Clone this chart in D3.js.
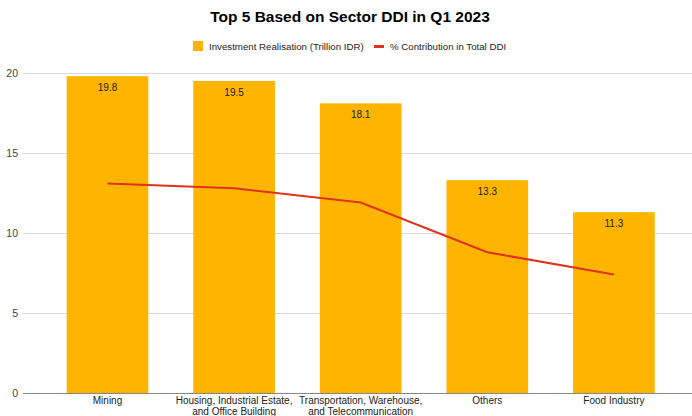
<!DOCTYPE html>
<html>
<head>
<meta charset="utf-8">
<script src="https://cdn.jsdelivr.net/npm/d3@7/dist/d3.min.js"></script>
<style>
  html, body { margin: 0; padding: 0; background: #fff; }
  svg { display: block; font-family: Arial, "Liberation Sans", sans-serif; }
</style>
</head>
<body>
<svg id="chart" width="692" height="416"></svg>
<script>
// Sector data
const categories = [
  ["Mining"],
  ["Housing, Industrial Estate,", "and Office Building"],
  ["Transportation, Warehouse,", "and Telecommunication"],
  ["Others"],
  ["Food Industry"]
];
const investment = [19.8, 19.5, 18.1, 13.3, 11.3];
const contribution = [13.1, 12.8, 11.9, 8.8, 7.4];
const yTicks = [0, 5, 10, 15, 20];
const seriesNames = ["Investment Realisation (Trillion IDR)", "% Contribution in Total DDI"];

const barColor = "#ffb400";
const lineColor = "#e0321c";

const svg = d3.select("#chart");
const W = 692, H = 416;
const gridLeft = 23, gridRight = 692;

const x = d3.scaleBand()
  .domain(d3.range(categories.length))
  .range([44.2, 677.2])
  .paddingInner(0.355)
  .paddingOuter(0.1775);

const y = d3.scaleLinear().domain([0, 20]).range([393, 73]);

// Title
svg.append("text")
  .attr("x", 350).attr("y", 22)
  .attr("text-anchor", "middle")
  .attr("font-size", 15.5).attr("font-weight", "bold").attr("fill", "#000")
  .text("Top 5 Based on Sector DDI in Q1 2023");

// Legend
const legend = svg.append("g").attr("font-size", 9.7).attr("fill", "#222");
legend.append("rect").attr("x", 193).attr("y", 41).attr("width", 10).attr("height", 10).attr("fill", barColor);
legend.append("text").attr("x", 209).attr("y", 50).attr("fill", "#222").text(seriesNames[0]);
legend.append("rect").attr("x", 374).attr("y", 45).attr("width", 10).attr("height", 3).attr("fill", lineColor);
legend.append("text").attr("x", 390).attr("y", 50).attr("fill", "#222").text(seriesNames[1]);

// Gridlines and y labels
const yAxis = svg.append("g");
yAxis.selectAll("line").data(yTicks.filter(d => d !== 0)).enter().append("line")
  .attr("x1", gridLeft).attr("x2", gridRight)
  .attr("y1", d => y(d) + 0.5).attr("y2", d => y(d) + 0.5)
  .attr("stroke", "#d9d9d9").attr("stroke-width", 1);
yAxis.selectAll("text").data(yTicks).enter().append("text")
  .attr("x", 18).attr("y", d => y(d) + 4)
  .attr("text-anchor", "end")
  .attr("font-size", 10.5).attr("fill", "#444")
  .text(d => d);

// Bars
svg.append("g").selectAll("rect").data(investment).enter().append("rect")
  .attr("x", (d, i) => x(i))
  .attr("y", d => y(d))
  .attr("width", x.bandwidth())
  .attr("height", d => y(0) - y(d))
  .attr("fill", barColor);

// Bar value labels
svg.append("g").selectAll("text").data(investment).enter().append("text")
  .attr("x", (d, i) => x(i) + x.bandwidth() / 2)
  .attr("y", d => y(d) + 15)
  .attr("text-anchor", "middle")
  .attr("font-size", 10).attr("fill", "#222")
  .text(d => d.toFixed(1));

// Baseline
svg.append("line")
  .attr("x1", gridLeft).attr("x2", gridRight)
  .attr("y1", y(0) + 0.5).attr("y2", y(0) + 0.5)
  .attr("stroke", "#888").attr("stroke-width", 1);

// Contribution line
const line = d3.line()
  .x((d, i) => x(i) + x.bandwidth() / 2)
  .y(d => y(d));
svg.append("path")
  .datum(contribution)
  .attr("d", line)
  .attr("fill", "none")
  .attr("stroke", lineColor)
  .attr("stroke-width", 2);

// Category labels (two-line names wrap onto a second row)
const xl = svg.append("g").attr("font-size", 10).attr("fill", "#222");
categories.forEach((lines, i) => {
  const cx = x(i) + x.bandwidth() / 2;
  const t = xl.append("text")
    .attr("x", cx)
    .attr("y", 404)
    .attr("text-anchor", "middle")
    .attr("fill", "#222");
  lines.forEach((s, k) => {
    t.append("tspan")
      .attr("x", cx)
      .attr("dy", k === 0 ? 0 : 11)
      .text(s);
  });
});
</script>
</body>
</html>
